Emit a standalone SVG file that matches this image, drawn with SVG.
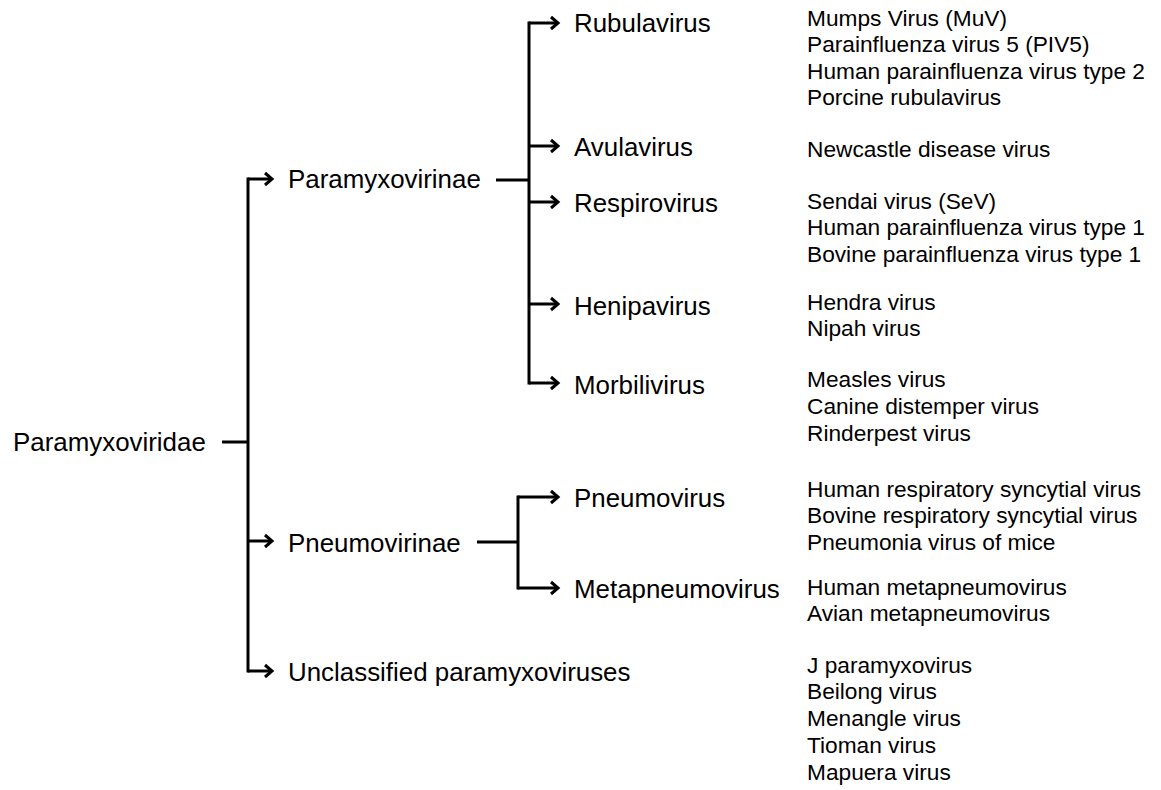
<svg xmlns="http://www.w3.org/2000/svg" width="1161" height="790" viewBox="0 0 1161 790">
<style>
.big{font-family:"Liberation Sans",Arial,sans-serif;font-size:25.9px;fill:#000}
.sm{font-family:"Liberation Sans",Arial,sans-serif;font-size:22.7px;fill:#000}
.ln{fill:none;stroke:#000;stroke-width:3}
.ar{fill:none;stroke:#000;stroke-width:3;marker-end:url(#arr)}
</style>
<defs>
<marker id="arr" markerUnits="userSpaceOnUse" markerWidth="16" markerHeight="18" viewBox="-12 -9 16 18" refX="0" refY="0" orient="auto">
<path d="M-7,-6 L0,0 L-7,6" fill="none" stroke="#000" stroke-width="3"/>
</marker>
</defs>
<rect width="1161" height="790" fill="#fff"/>
<g id="connectors">
<path class="ln" d="M222,442 H248 M248,177.5 V672.5"/>
<path class="ar" d="M248,179 H272"/>
<path class="ar" d="M248,541 H272"/>
<path class="ar" d="M248,671 H272"/>
<path class="ln" d="M496,180 H529 M529,21.5 V384.5"/>
<path class="ar" d="M529,23 H558"/>
<path class="ar" d="M529,146 H558"/>
<path class="ar" d="M529,202 H558"/>
<path class="ar" d="M529,304 H558"/>
<path class="ar" d="M529,383 H558"/>
<path class="ln" d="M477,542 H518 M518,495.5 V589.5"/>
<path class="ar" d="M518,497 H558"/>
<path class="ar" d="M518,588 H558"/>
</g>
<g id="paramyxoviridae"><text class="big" x="13" y="451">Paramyxoviridae</text></g>
<g id="paramyxovirinae"><text class="big" x="288" y="188">Paramyxovirinae</text></g>
<g id="pneumovirinae"><text class="big" x="288" y="552">Pneumovirinae</text></g>
<g id="unclassified"><text class="big" x="288" y="681">Unclassified paramyxoviruses</text></g>
<g id="rubulavirus"><text class="big" x="574" y="32">Rubulavirus</text></g>
<g id="avulavirus"><text class="big" x="574" y="156">Avulavirus</text></g>
<g id="respirovirus"><text class="big" x="574" y="212">Respirovirus</text></g>
<g id="henipavirus"><text class="big" x="574" y="315">Henipavirus</text></g>
<g id="morbilivirus"><text class="big" x="574" y="394">Morbilivirus</text></g>
<g id="pneumovirus"><text class="big" x="574" y="507">Pneumovirus</text></g>
<g id="metapneumovirus"><text class="big" x="574" y="598">Metapneumovirus</text></g>
<g id="rubula-species">
<text class="sm" x="807" y="26">Mumps Virus (MuV)</text>
<text class="sm" x="807" y="52">Parainfluenza virus 5 (PIV5)</text>
<text class="sm" x="807" y="79">Human parainfluenza virus type 2</text>
<text class="sm" x="807" y="105">Porcine rubulavirus</text>
</g>
<g id="avula-species"><text class="sm" x="807" y="157">Newcastle disease virus</text></g>
<g id="respiro-species">
<text class="sm" x="807" y="209">Sendai virus (SeV)</text>
<text class="sm" x="807" y="235">Human parainfluenza virus type 1</text>
<text class="sm" x="807" y="262">Bovine parainfluenza virus type 1</text>
</g>
<g id="henipa-species">
<text class="sm" x="807" y="310">Hendra virus</text>
<text class="sm" x="807" y="336">Nipah virus</text>
</g>
<g id="morbili-species">
<text class="sm" x="807" y="387">Measles virus</text>
<text class="sm" x="807" y="414">Canine distemper virus</text>
<text class="sm" x="807" y="441">Rinderpest virus</text>
</g>
<g id="pneumo-species">
<text class="sm" x="807" y="497">Human respiratory syncytial virus</text>
<text class="sm" x="807" y="523">Bovine respiratory syncytial virus</text>
<text class="sm" x="807" y="550">Pneumonia virus of mice</text>
</g>
<g id="metapneumo-species">
<text class="sm" x="807" y="595">Human metapneumovirus</text>
<text class="sm" x="807" y="621">Avian metapneumovirus</text>
</g>
<g id="unclassified-species">
<text class="sm" x="807" y="673">J paramyxovirus</text>
<text class="sm" x="807" y="699">Beilong virus</text>
<text class="sm" x="807" y="726">Menangle virus</text>
<text class="sm" x="807" y="753">Tioman virus</text>
<text class="sm" x="807" y="780">Mapuera virus</text>
</g>
</svg>
